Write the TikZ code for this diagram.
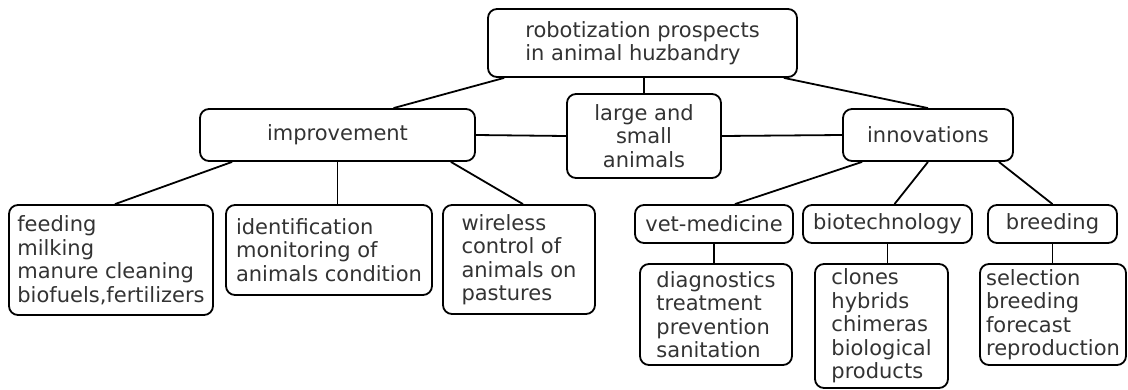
\documentclass[tikz,border=0pt]{standalone}
\usepackage{fontspec}
\setmainfont{DejaVu Sans}
\usetikzlibrary{calc}

\begin{document}
\begin{tikzpicture}[x=1pt,y=-1pt,
  box/.style={draw,rounded corners=9pt,line width=1.8pt,inner sep=0pt,align=left,
    text=black!80,font=\fontsize{21}{23.5}\selectfont},
  link/.style={line width=1.8pt}]
\useasboundingbox (0,0) rectangle (1128,389);
\node[box,minimum width=309pt,minimum height=68pt] (root) at (642.5,43) {robotization prospects\\in animal huzbandry};
\node[box,minimum width=275pt,minimum height=52pt] (impr) at (337.5,135) {improvement};
\node[box,align=center,minimum width=154pt,minimum height=84pt] (large) at (644,136) {large and\\small\\animals};
\node[box,minimum width=170pt,minimum height=52pt] (innov) at (928,135) {innovations};
\node[box,minimum width=204pt,minimum height=110pt] (feed) at (111,260) {feeding\\milking\\manure cleaning\\biofuels,fertilizers};
\node[box,minimum width=206pt,minimum height=90pt] (ident) at (329,250) {identification\\monitoring of\\animals condition};
\node[box,minimum width=152pt,minimum height=109pt] (wire) at (519,259.5) {wireless\\control of\\animals on\\pastures};
\node[box,minimum width=158pt,minimum height=38pt] (vet) at (714,224) {vet-medicine};
\node[box,minimum width=169pt,minimum height=38pt] (bio) at (887.5,224) {biotechnology};
\node[box,minimum width=129pt,minimum height=38pt] (breed) at (1052.5,224) {breeding};
\node[box,minimum width=152pt,minimum height=101pt] (diag) at (716,314.5) {diagnostics\\treatment\\prevention\\sanitation};
\node[box,minimum width=133pt,minimum height=124pt] (clones) at (881.5,326) {clones\\hybrids\\chimeras\\biological\\products};
\node[box,minimum width=146pt,minimum height=101pt] (sel) at (1053,314.5) {selection\\breeding\\forecast\\reproduction};
\draw[link] ([xshift=17pt]root.south west) -- ([xshift=56pt]impr.north);
\draw[link] (large.north) -- (large.north |- root.south);
\draw[link] ([xshift=-14pt]root.south east) -- (innov.north);
\draw[link] (impr.east) -- (large.west);
\draw[link] (large.east) -- (innov.west);
\draw[link] ([xshift=33pt]impr.south west) -- ([xshift=4pt]feed.north);
\draw[link] (impr.south) -- (impr.south |- ident.north);
\draw[link] ([xshift=-25pt]impr.south east) -- ([xshift=4pt]wire.north);
\draw[link] ([xshift=20pt]innov.south west) -- ([xshift=21pt]vet.north);
\draw[link] (innov.south) -- ([xshift=7pt]bio.north);
\draw[link] ([xshift=-15pt]innov.south east) -- (breed.north);
\draw[link] (vet.south) -- (vet.south |- diag.north);
\draw[link] (bio.south) -- (bio.south |- clones.north);
\draw[link] (breed.south) -- (breed.south |- sel.north);
\end{tikzpicture}
\end{document}
